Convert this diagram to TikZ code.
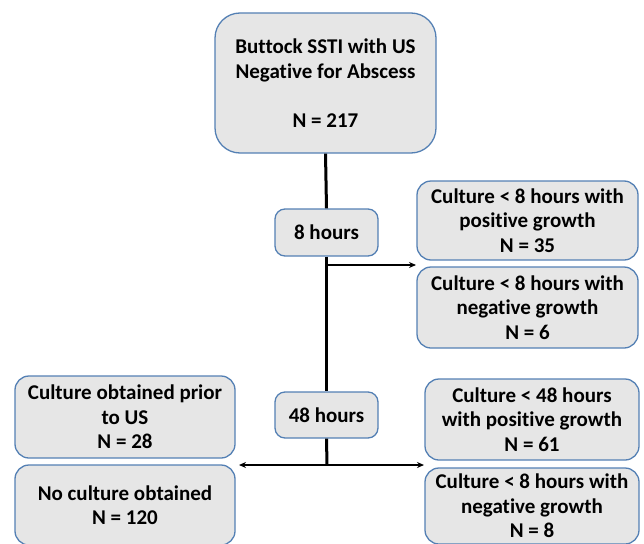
\documentclass[tikz,border=0pt]{standalone}
\usepackage{fontspec}
\setmainfont[Ligatures=NoCommon]{Carlito}
\usetikzlibrary{arrows.meta}
\definecolor{boxfill}{RGB}{230,230,230}
\definecolor{boxline}{RGB}{84,128,180}
\tikzset{
  fbox/.style={draw=boxline, fill=boxfill, line width=1.3pt, rounded corners=14pt,
    align=center, inner sep=0pt, font=\fontsize{21}{24.5}\selectfont\bfseries},
  conn/.style={line width=3pt, black},
  arr/.style={line width=1.8pt, black, -{Stealth[length=7pt,width=6pt]}}
}
\begin{document}
\begin{tikzpicture}[x=1pt,y=-1pt]
\useasboundingbox (0,0) rectangle (644,543);
\clip (0,0) rectangle (644,543);
\node[fbox, rounded corners=25pt, minimum width=221pt, minimum height=140pt] (top) at (325.5,83)
  {Buttock SSTI with US\\Negative for Abscess\\[24.5pt]N = 217};
\node[fbox, rounded corners=10pt, minimum width=103pt, minimum height=47pt] (h8) at (326.5,232.5) {8 hours};
\node[fbox, minimum width=221pt, minimum height=79pt] (p8) at (527.5,220.5)
  {Culture {<} 8 hours with\\positive growth\\N = 35};
\node[fbox, minimum width=221pt, minimum height=81pt] (n8) at (527.5,307.5)
  {Culture {<} 8 hours with\\negative growth\\N = 6};
\node[fbox, rounded corners=10pt, minimum width=103pt, minimum height=46pt] (h48) at (326.5,415) {48 hours};
\node[fbox, minimum width=220pt, minimum height=82pt] (prior) at (125,417)
  {Culture obtained prior\\to US\\N = 28};
\node[fbox, minimum width=220pt, minimum height=80pt] (none) at (125,505)
  {No culture obtained\\N = 120};
\node[fbox, minimum width=214pt, minimum height=81pt] (p48) at (532,419.5)
  {Culture {<} 48 hours\\with positive growth\\N = 61};
\node[fbox, minimum width=214pt, minimum height=76pt] (n48) at (532,506)
  {Culture {<} 8 hours with\\negative growth\\N = 8};
\coordinate (j8) at (327,265);
\coordinate (e8) at (416,265);
\coordinate (j48) at (327,465);
\coordinate (l48) at (239,465);
\coordinate (r48) at (424,465);
\draw[conn] (top.south) -- (h8.north);
\draw[conn] (h8.south) -- (h48.north);
\draw[conn] (h48.south) -- (j48);
\draw[arr] (j8) -- (e8);
\draw[arr] (j48) -- (l48);
\draw[arr] (j48) -- (r48);
\end{tikzpicture}
\end{document}
